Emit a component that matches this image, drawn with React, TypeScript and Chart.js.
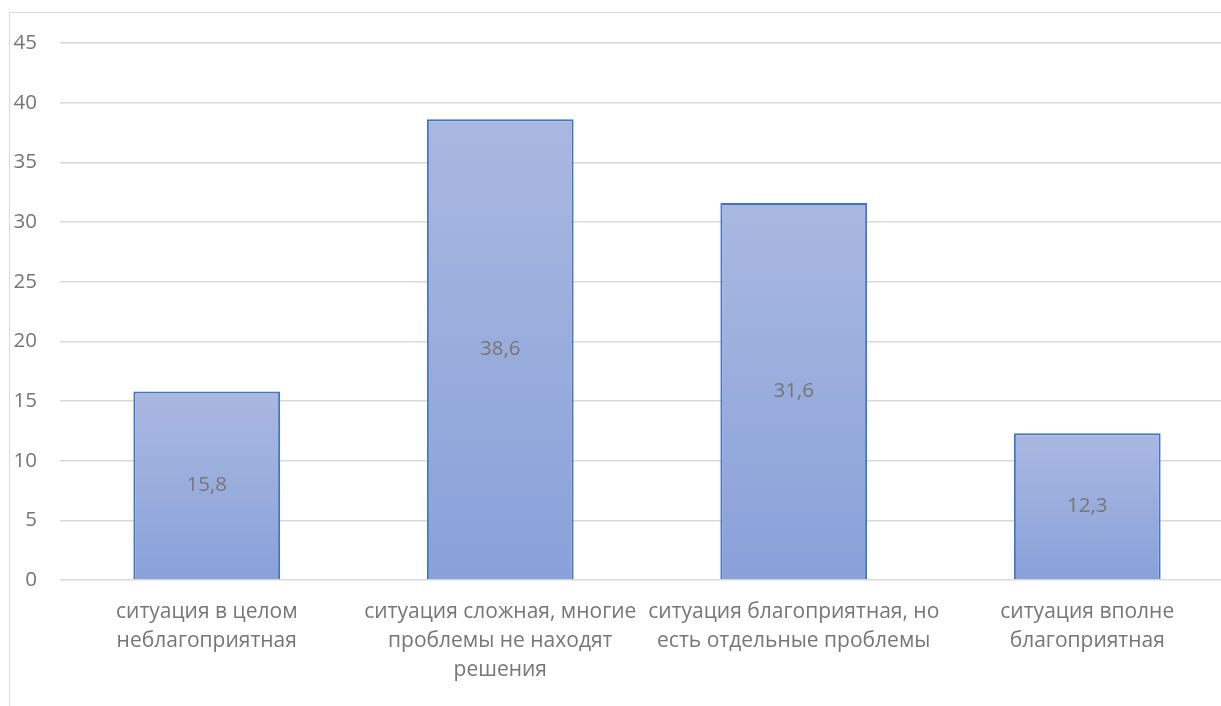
import React, { useEffect, useRef } from "react";
import { Chart, registerables } from "chart.js";

Chart.register(...registerables);

const categories: string[][] = [
  ["ситуация в целом", "неблагоприятная"],
  ["ситуация сложная, многие", "проблемы не находят", "решения"],
  ["ситуация благоприятная, но", "есть отдельные проблемы"],
  ["ситуация вполне", "благоприятная"],
];
const values: number[] = [15.8, 38.6, 31.6, 12.3];
const yTicks: number[] = [0, 5, 10, 15, 20, 25, 30, 35, 40, 45];

const FONT = "'Open Sans', 'Noto Sans', sans-serif";
const TEXT = "#767676";
const GRID = "#d9d9d9";

// Writes each bar's value, with a decimal comma, in the middle of the bar.
const centerLabels = {
  id: "centerLabels",
  afterDatasetsDraw(chart: Chart) {
    const { ctx } = chart;
    const meta = chart.getDatasetMeta(0);
    ctx.save();
    ctx.font = `20.5px ${FONT}`;
    ctx.fillStyle = TEXT;
    ctx.textAlign = "center";
    ctx.textBaseline = "middle";
    meta.data.forEach((el: any, i: number) => {
      const v = values[i];
      const y = (el.y + el.base) / 2;
      ctx.fillText(v.toFixed(1).replace(".", ","), el.x, y);
    });
    ctx.restore();
  },
};

export default function App() {
  const ref = useRef<HTMLCanvasElement | null>(null);

  useEffect(() => {
    if (!ref.current) return;
    const chart = new Chart(ref.current, {
      type: "bar",
      data: {
        labels: categories,
        datasets: [
          {
            data: values,
            borderColor: "#4472c4",
            borderWidth: 2,
            backgroundColor: (c: any) => {
              const ch = c.chart;
              const y = ch.scales?.y;
              if (!y || c.raw == null) return "#98abdc";
              const top = y.getPixelForValue(c.raw);
              const bottom = y.getPixelForValue(0);
              if (!isFinite(top) || !isFinite(bottom) || top === bottom) return "#98abdc";
              const g = ch.ctx.createLinearGradient(0, top, 0, bottom);
              g.addColorStop(0, "#a9b8e0");
              g.addColorStop(1, "#89a1d9");
              return g;
            },
            categoryPercentage: 0.5,
            barPercentage: 1,
          },
        ],
      },
      options: {
        animation: false,
        responsive: false,
        maintainAspectRatio: false,
        layout: { padding: { left: 0, right: 26, top: 43, bottom: 0 } },
        plugins: {
          legend: { display: false },
          tooltip: { enabled: false },
          title: { display: false },
        },
        scales: {
          x: {
            grid: { display: false, drawTicks: false },
            border: { display: false },
            ticks: {
              color: TEXT,
              font: { family: FONT, size: 21, lineHeight: 1.4 },
              padding: 17,
              maxRotation: 0,
              autoSkip: false,
            },
            afterFit: (s: any) => {
              s.height = 126;
            },
          },
          y: {
            min: 0,
            max: 45,
            afterBuildTicks: (s: any) => {
              s.ticks = yTicks.map((v) => ({ value: v }));
            },
            grid: { color: GRID, lineWidth: 1.5, drawTicks: false },
            border: { display: false },
            ticks: {
              color: TEXT,
              font: { family: FONT, size: 20.5 },
              padding: 23,
            },
            afterFit: (s: any) => {
              s.width = 60;
            },
          },
        },
      },
      plugins: [centerLabels],
    });
    return () => chart.destroy();
  }, []);

  return (
    <div
      style={{
        position: "fixed",
        left: 0,
        top: 0,
        width: 1221,
        height: 706,
        overflow: "hidden",
        background: "#ffffff",
      }}
    >
      <div
        style={{
          position: "absolute",
          left: 9,
          top: 12,
          width: 1400,
          height: 1000,
          border: `1.5px solid ${GRID}`,
          boxSizing: "border-box",
        }}
      />
      <canvas
        ref={ref}
        width={1260}
        height={706}
        style={{ position: "absolute", left: 0, top: 0, width: 1260, height: 706 }}
      />
    </div>
  );
}
